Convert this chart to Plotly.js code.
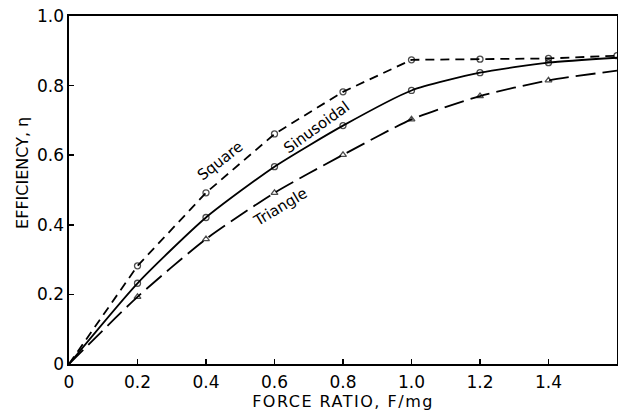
<!DOCTYPE html>
<html>
<head>
<meta charset="utf-8">
<script src="https://cdn.plot.ly/plotly-3.0.1.min.js"></script>
<style>
  html, body { margin: 0; padding: 0; background: #fff; }
  #chart { width: 618px; height: 417px; }
  #chart .xtitle { letter-spacing: 1.5px; }
</style>
</head>
<body>
<div id="chart"></div>
<script>
// Force ratio F/mg on the x axis
const forceRatio = [0, 0.2, 0.4, 0.6, 0.8, 1.0, 1.2, 1.4, 1.6];

// Efficiency for each excitation waveform
const squareEff     = [0, 0.282, 0.492, 0.661, 0.782, 0.874, 0.876, 0.878, 0.886];
const sinusoidalEff = [0, 0.232, 0.421, 0.567, 0.685, 0.786, 0.837, 0.866, 0.880];
const triangleEff   = [0, 0.193, 0.359, 0.492, 0.601, 0.703, 0.770, 0.815, 0.843];

// Tick labels
const xTickVals = [0, 0.2, 0.4, 0.6, 0.8, 1.0, 1.2, 1.4];
const xTickText = ['0', '0.2', '0.4', '0.6', '0.8', '1.0', '1.2', '1.4'];
const yTickVals = [0, 0.2, 0.4, 0.6, 0.8, 1.0];
const yTickText = ['0', '0.2', '0.4', '0.6', '0.8', '1.0'];

const FONT = 'DejaVu Sans, Liberation Sans, sans-serif';
const last = forceRatio.length - 1;

// Markers sit on the measured points only (none at the origin);
// the sinusoidal and triangle curves run on to the frame unmarked.
const markerSizes = (markEnd) => forceRatio.map((_, i) => (i === 0 || (!markEnd && i === last)) ? 0 : 6);

const traces = [
  {
    x: forceRatio, y: squareEff, mode: 'lines+markers',
    line: { color: '#000', width: 1.8, dash: '9px,6px' },
    marker: { symbol: 'circle-open', size: markerSizes(true), color: '#000', line: { width: 1.3 } },
    cliponaxis: false, hoverinfo: 'skip'
  },
  {
    x: forceRatio, y: sinusoidalEff, mode: 'lines+markers',
    line: { color: '#000', width: 1.8, shape: 'spline', smoothing: 0.6 },
    marker: { symbol: 'circle-open', size: markerSizes(false), color: '#000', line: { width: 1.3 } },
    cliponaxis: false, hoverinfo: 'skip'
  },
  {
    x: forceRatio, y: triangleEff, mode: 'lines+markers',
    line: { color: '#000', width: 1.8, dash: '20px,7px', shape: 'spline', smoothing: 0.6 },
    marker: { symbol: 'triangle-up-open', size: markerSizes(false), color: '#000', line: { width: 1.3 } },
    cliponaxis: false, hoverinfo: 'skip'
  }
];

const layout = {
  width: 618, height: 417,
  margin: { l: 69, r: 1, t: 16, b: 53 },
  paper_bgcolor: '#fff', plot_bgcolor: '#fff',
  showlegend: false,
  font: { family: FONT, color: '#000', size: 17 },
  xaxis: {
    range: [0, 1.6], showgrid: false, zeroline: false,
    showline: true, mirror: true, linecolor: '#000', linewidth: 1.6,
    ticks: 'inside', ticklen: 5, tickwidth: 1.5, tickcolor: '#000',
    tickvals: xTickVals, ticktext: xTickText,
    tickfont: { family: FONT, size: 17, color: '#000' },
    ticklabelstandoff: 2,
    title: { text: 'FORCE RATIO, F/mg', font: { family: FONT, size: 16, color: '#000' }, standoff: 4 }
  },
  yaxis: {
    range: [0, 1.0], showgrid: false, zeroline: false,
    showline: true, mirror: true, linecolor: '#000', linewidth: 1.6,
    ticks: 'inside', ticklen: 5, tickwidth: 1.5, tickcolor: '#000',
    tickvals: yTickVals, ticktext: yTickText,
    tickfont: { family: FONT, size: 17, color: '#000' },
    ticklabelstandoff: 0
  },
  annotations: [
    // y axis title, set beside the tick labels
    { xref: 'paper', yref: 'paper', x: -0.084, y: 0.549, xanchor: 'center', yanchor: 'middle',
      text: 'EFFICIENCY, η', textangle: -90, showarrow: false,
      font: { family: FONT, size: 16, color: '#000' } },
    // curve labels
    { x: 0.441, y: 0.583, text: 'Square', textangle: -38, showarrow: false,
      font: { family: FONT, size: 15, color: '#000' } },
    { x: 0.724, y: 0.682, text: 'Sinusoidal', textangle: -36, showarrow: false,
      font: { family: FONT, size: 15, color: '#000' } },
    { x: 0.617, y: 0.452, text: 'Triangle', textangle: -31, showarrow: false,
      font: { family: FONT, size: 15, color: '#000' } }
  ]
};

Plotly.newPlot('chart', traces, layout, { staticPlot: true, displayModeBar: false });
</script>
</body>
</html>
